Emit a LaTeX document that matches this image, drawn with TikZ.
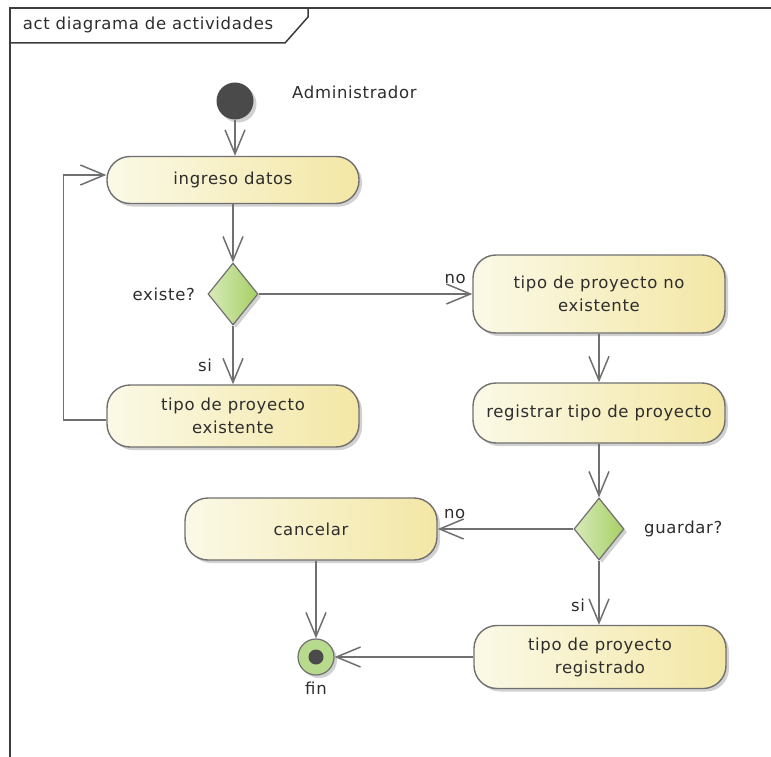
\documentclass[tikz,border=0pt]{standalone}
\usepackage{fontspec}
\setmainfont[LetterSpace=4]{DejaVu Sans}
\usetikzlibrary{arrows.meta,positioning,shapes.geometric,shadows}
\definecolor{linegray}{RGB}{112,112,112}
\definecolor{framegray}{RGB}{60,60,60}
\definecolor{textgray}{RGB}{45,45,45}
\definecolor{actlight}{RGB}{251,249,231}
\definecolor{actdark}{RGB}{243,231,165}
\definecolor{declight}{RGB}{216,234,186}
\definecolor{decdark}{RGB}{166,208,100}
\definecolor{fingreen}{RGB}{183,218,140}
\definecolor{nodedark}{RGB}{74,74,74}

\begin{document}
\begin{tikzpicture}[x=1pt, y=-1pt, font=\fontsize{16.5}{23}\selectfont, text=textgray,
  softshadow/.style={drop shadow={shadow xshift=3pt, shadow yshift=-3pt, fill=black, opacity=0.18}},
  flow/.style={draw=linegray, line width=1.5pt, -{Straight Barb[length=24pt, width=20pt]}},
  activity/.style={draw=linegray, line width=1.4pt, rounded corners=23pt, left color=actlight, right color=actdark,
    minimum width=252pt, inner sep=2pt, align=center, softshadow},
  decision/.style={diamond, draw=linegray, line width=1.2pt, left color=declight, right color=decdark,
    minimum width=50pt, minimum height=62pt, inner sep=0pt, softshadow},
  startnode/.style={circle, fill=nodedark, minimum size=37pt, inner sep=0pt, softshadow},
  finnode/.style={circle, draw=linegray, line width=1.2pt, fill=fingreen, minimum size=36pt, inner sep=0pt, softshadow,
    path picture={\fill[nodedark] (path picture bounding box.center) circle (7.5pt);}}]
  \useasboundingbox (0,0) rectangle (771,757);

  % frame
  \draw[framegray, line width=1.5pt] (771,8) -- (10,8) -- (10,757);
  \draw[framegray, line width=1.5pt] (10,43) -- (285,43) -- (308,17) -- (308,8);
  \node (title) at (148,25) {act diagrama de actividades};

  % nodes
  \node[startnode] (start) at (235,101) {};
  \node[right=35pt of start, yshift=9pt] (actor) {Administrador};
  \node[activity, minimum height=47pt] (ingreso) at (233,180) {ingreso datos};
  \node[decision] (existe) at (233,294) {};
  \node[left=9pt of existe] (existelbl) {existe?};
  \node[activity, minimum height=62pt] (existente) at (233,416) {tipo de proyecto\\existente};
  \node[activity, minimum height=78pt] (noexiste) at (599,294) {tipo de proyecto no\\existente};
  \node[activity, minimum height=60pt] (registrar) at (599,413) {registrar tipo de proyecto};
  \node[decision] (guardar) at (599,529) {};
  \node[right=16pt of guardar] (guardarlbl) {guardar?};
  \node[activity, minimum height=62pt] (cancelar) at (311,529) {cancelar};
  \node[activity, minimum height=63pt] (registrado) at (600,657) {tipo de proyecto\\registrado};
  \node[finnode] (fin) at (316,657) {};
  \node[below=3pt of fin] (finlbl) {fin};

  % connectors
  \draw[flow] (start) -- (start |- ingreso.north);
  \draw[flow] (ingreso) -- (existe);
  \draw[flow] (existe) -- node[pos=0.67, left=17pt] {si} (existente);
  \draw[flow] (existe) -- node[pos=0.92, above=6pt] {no} (noexiste);
  \draw[flow] ([yshift=-4pt]existente.west) -- ++(-43,0) |- ([yshift=5pt]ingreso.west);
  \draw[flow] (noexiste) -- (registrar);
  \draw[flow] (registrar) -- (guardar);
  \draw[flow] (guardar) -- node[pos=0.875, above=6pt] {no} (cancelar);
  \draw[flow] (guardar) -- node[pos=0.7, left=10pt] {si} (guardar |- registrado.north);
  \draw[flow] (fin |- cancelar.south) -- (fin);
  \draw[flow] (registrado.west) -- (fin);
\end{tikzpicture}
\end{document}
